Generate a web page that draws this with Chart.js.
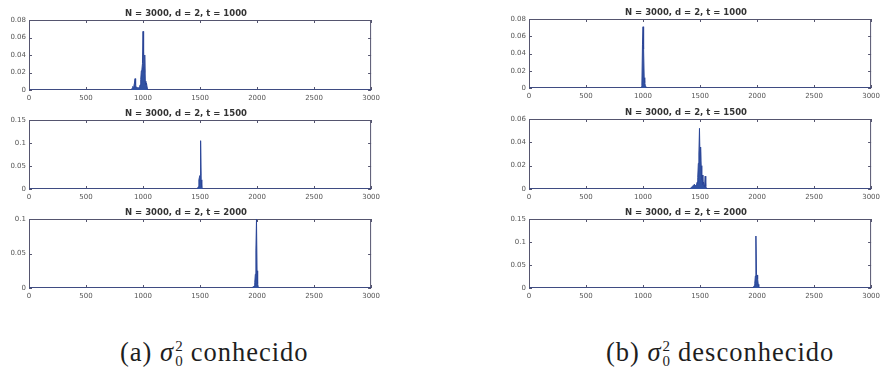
<!DOCTYPE html>
<html>
<head>
<meta charset="utf-8">
<script src="https://cdn.jsdelivr.net/npm/chart.js@4.4.1/dist/chart.umd.min.js"></script>
<style>
  html, body { margin: 0; padding: 0; background: #fff; width: 881px; height: 375px; overflow: hidden; }
  canvas.panel { position: absolute; }
  .caption { position: absolute; font-family: 'Liberation Serif', 'Times New Roman', serif; font-size: 26.5px; letter-spacing: 1px; line-height: 30px; color: #1e1e1e; white-space: nowrap; }
  .caption i { font-style: italic; }
  .ss { display: inline-flex; flex-direction: column; font-size: 15px; line-height: 15px; letter-spacing: 0; vertical-align: 10px; margin: 0 8px 0 1px; }
</style>
</head>
<body>
<div class="caption" style="left:120px; top:337px">(a) <i>σ</i><span class="ss"><span>2</span><span>0</span></span>conhecido</div>
<div class="caption" style="left:606px; top:337px">(b) <i>σ</i><span class="ss"><span>2</span><span>0</span></span>desconhecido</div>
<script>
// Walker position distribution, N = 3000 sites, d = 2
const sites = 3000;
const dim = 2;
const times = [1000, 1500, 2000];
const xTickValues = [0, 500, 1000, 1500, 2000, 2500, 3000];

// sigma_0^2 known
const knownT1000Pos  = [0, 890, 900, 905, 910, 915, 920, 925, 930, 935, 940, 945, 950, 955, 960, 965, 970, 975, 980, 985, 990, 995, 1000, 1005, 1010, 1015, 1020, 1025, 1030, 1040, 3000];
const knownT1000Prob = [0, 0, 0.001, 0.002, 0.004, 0.003, 0.005, 0.008, 0.013, 0.006, 0.003, 0.002, 0.002, 0.003, 0.002, 0.003, 0.004, 0.006, 0.012, 0.022, 0.023, 0.03, 0.067, 0.04, 0.02, 0.04, 0.01, 0.006, 0.008, 0, 0];
const knownT1500Pos  = [0, 1470, 1480, 1485, 1490, 1495, 1500, 1505, 1510, 1515, 1520, 1530, 3000];
const knownT1500Prob = [0, 0, 0.002, 0.005, 0.02, 0.026, 0.03, 0.105, 0.02, 0.004, 0.002, 0, 0];
const knownT2000Pos  = [0, 1950, 1960, 1970, 1975, 1980, 1985, 1990, 1995, 2000, 2005, 2010, 2020, 3000];
const knownT2000Prob = [0, 0, 0.001, 0.002, 0.003, 0.008, 0.02, 0.055, 0.1, 0.025, 0.006, 0.002, 0, 0];

// sigma_0^2 unknown
const unknownT1000Pos  = [0, 975, 985, 990, 995, 1000, 1005, 1010, 1015, 1020, 1030, 3000];
const unknownT1000Prob = [0, 0, 0.001, 0.003, 0.05, 0.071, 0.045, 0.012, 0.006, 0.003, 0, 0];
const unknownT1500Pos  = [0, 1410, 1420, 1430, 1440, 1450, 1460, 1470, 1475, 1480, 1485, 1490, 1495, 1500, 1505, 1510, 1515, 1520, 1525, 1530, 1535, 1540, 1545, 1550, 1560, 3000];
const unknownT1500Prob = [0, 0, 0.001, 0.002, 0.003, 0.004, 0.003, 0.004, 0.006, 0.01, 0.022, 0.03, 0.052, 0.025, 0.036, 0.02, 0.008, 0.012, 0.004, 0.006, 0.003, 0.002, 0.011, 0.002, 0, 0];
const unknownT2000Pos  = [0, 1955, 1965, 1970, 1975, 1980, 1985, 1990, 1995, 2000, 2005, 2010, 2015, 2020, 2030, 3000];
const unknownT2000Prob = [0, 0, 0.001, 0.003, 0.005, 0.01, 0.026, 0.113, 0.03, 0.028, 0.02, 0.008, 0.003, 0.001, 0, 0];

const knownYMax    = [0.08, 0.15, 0.1];
const knownYStep   = [0.02, 0.05, 0.05];
const unknownYMax  = [0.08, 0.06, 0.15];
const unknownYStep = [0.02, 0.02, 0.05];

// ---- layout and styling ----
const AXIS_W = 29, TITLE_H = 20, XAXIS_H = 16, RIGHT_PAD = 12;
const FRAME = '#55556f';
const TICK_TEXT = '#555';
const FILL = '#3152a3';
const LINE = '#2a4597';

const columns = [
  { plotLeft: 29,  plotW: 343, tops: [20, 120, 219], heights: [70, 69, 69] },
  { plotLeft: 529, plotW: 343, tops: [19, 119, 219], heights: [69, 70, 69] }
];

const panels = [
  [ [knownT1000Pos, knownT1000Prob], [knownT1500Pos, knownT1500Prob], [knownT2000Pos, knownT2000Prob] ],
  [ [unknownT1000Pos, unknownT1000Prob], [unknownT1500Pos, unknownT1500Prob], [unknownT2000Pos, unknownT2000Prob] ]
];
const yMaxes = [knownYMax, unknownYMax];
const ySteps = [knownYStep, unknownYStep];

// box frame with inward ticks on all four sides
const boxFrame = {
  id: 'boxFrame',
  beforeDatasetsDraw(chart) {
    const { ctx, chartArea: a, scales: { x, y } } = chart;
    ctx.save();
    ctx.strokeStyle = FRAME;
    ctx.lineWidth = 1;
    ctx.strokeRect(a.left + 0.5, a.top + 0.5, a.width - 1, a.height - 1);
    ctx.beginPath();
    xTickValues.forEach(v => {
      const px = Math.round(x.getPixelForValue(v)) + 0.5;
      ctx.moveTo(px, a.bottom); ctx.lineTo(px, a.bottom - 3);
      ctx.moveTo(px, a.top); ctx.lineTo(px, a.top + 3);
    });
    y.ticks.forEach(t => {
      const py = Math.round(y.getPixelForValue(t.value)) + 0.5;
      ctx.moveTo(a.left, py); ctx.lineTo(a.left + 3, py);
      ctx.moveTo(a.right, py); ctx.lineTo(a.right - 3, py);
    });
    ctx.stroke();
    ctx.restore();
  }
};

columns.forEach((col, c) => {
  times.forEach((t, r) => {
    const [pos, prob] = panels[c][r];
    const canvas = document.createElement('canvas');
    canvas.className = 'panel';
    const w = AXIS_W + col.plotW + RIGHT_PAD;
    const h = TITLE_H + col.heights[r] + XAXIS_H;
    canvas.width = w; canvas.height = h;
    canvas.style.width = w + 'px'; canvas.style.height = h + 'px';
    canvas.style.left = (col.plotLeft - AXIS_W) + 'px';
    canvas.style.top = (col.tops[r] - TITLE_H) + 'px';
    document.body.appendChild(canvas);

    new Chart(canvas, {
      type: 'line',
      data: {
        datasets: [{
          data: pos.map((p, i) => ({ x: p, y: prob[i] })),
          borderColor: LINE,
          backgroundColor: FILL,
          borderWidth: 1,
          pointRadius: 0,
          tension: 0,
          fill: 'origin'
        }]
      },
      options: {
        responsive: false,
        animation: false,
        devicePixelRatio: 1,
        layout: { autoPadding: false, padding: { left: 0, right: RIGHT_PAD, top: 0, bottom: 0 } },
        plugins: {
          legend: { display: false },
          tooltip: { enabled: false },
          title: {
            display: true,
            text: `N = ${sites}, d = ${dim}, t = ${t}`,
            color: '#333',
            font: { family: 'DejaVu Sans', size: 8.5, weight: 'bold', lineHeight: 1 },
            padding: { top: 9.5, bottom: 2 }
          }
        },
        scales: {
          x: {
            type: 'linear', min: 0, max: sites,
            afterBuildTicks: s => { s.ticks = xTickValues.map(v => ({ value: v })); },
            ticks: { color: TICK_TEXT, font: { family: 'DejaVu Sans', size: 7 }, padding: 4, maxRotation: 0, autoSkip: false,
                     callback: v => String(v) },
            grid: { display: false, drawTicks: false },
            border: { display: false },
            afterFit: s => { s.height = XAXIS_H; }
          },
          y: {
            min: 0, max: yMaxes[c][r],
            ticks: { stepSize: ySteps[c][r], color: TICK_TEXT, font: { family: 'DejaVu Sans', size: 7 }, padding: 3,
                     callback: v => String(+v.toFixed(3)) },
            grid: { display: false, drawTicks: false },
            border: { display: false },
            afterFit: s => { s.width = AXIS_W; }
          }
        }
      },
      plugins: [boxFrame]
    });
  });
});
</script>
</body>
</html>
